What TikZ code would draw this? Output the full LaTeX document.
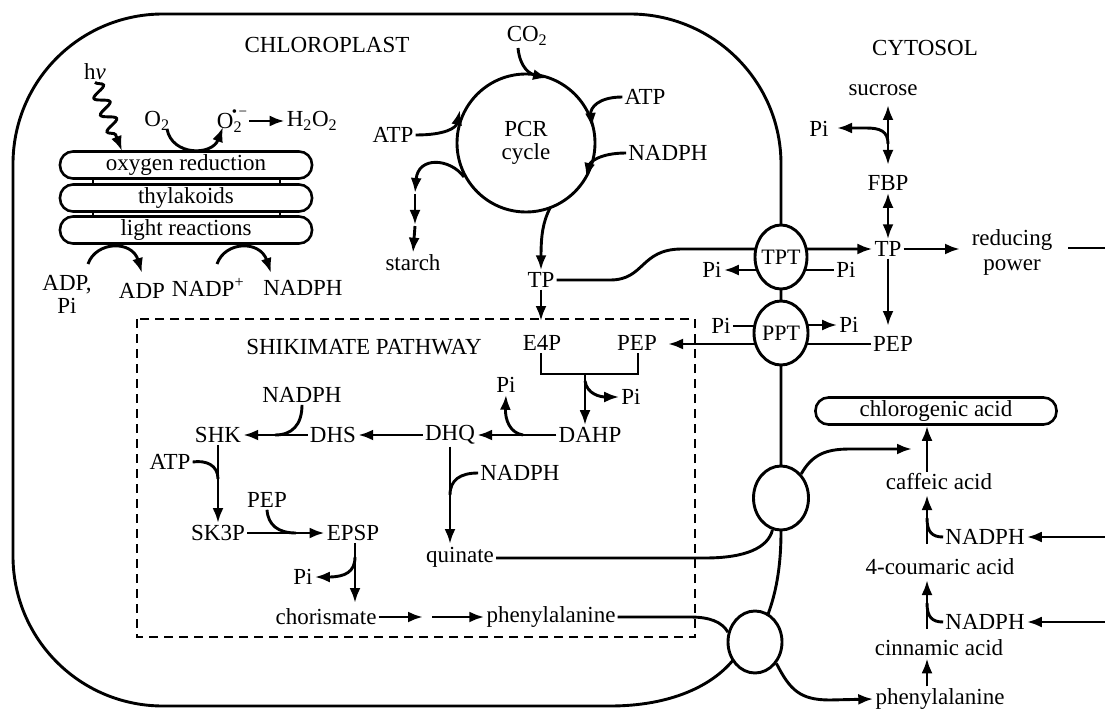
\documentclass[tikz,border=0pt]{standalone}
\usepackage{fontspec}
\setmainfont{Liberation Serif}
\usetikzlibrary{arrows.meta,decorations.pathmorphing,shapes.geometric}
\pgfdeclarelayer{bg}
\pgfsetlayers{bg,main}
\tikzset{
  lbl/.style={font=\fontsize{23}{25}\selectfont, inner sep=2pt},
  ln/.style={line width=2.9pt},
  ar/.style={line width=2.9pt, -{Latex[length=15pt,width=11pt]}},
  dar/.style={line width=2.9pt, {Latex[length=15pt,width=11pt]}-{Latex[length=15pt,width=11pt]}},
  memb/.style={line width=2.9pt},
  carrier/.style={draw, ellipse, line width=2.9pt, fill=white, inner sep=0pt},
  stack/.style={draw, line width=2.6pt, rounded corners=13pt, minimum width=252pt, minimum height=27pt, inner sep=0pt},
  shikbox/.style={line width=2.6pt, dash pattern=on 9pt off 6pt},
}
\begin{document}
\begin{tikzpicture}[x=1pt,y=-1pt, every node/.append style={lbl}]
\useasboundingbox (0,0) rectangle (1105,711);

% ---------- labels ----------
\node (chl) at (327,45) {CHLOROPLAST};
\node (cyt) at (925,48) {CYTOSOL};
\node (hv) at (95,72) {h\textit{ν}};
\node (o2) at (157,121) {O\textsubscript{2}};
\node (o2m) at (232,121) {O\textsubscript{2}\kern-0.45em\raisebox{0.55em}{\fontsize{15}{15}\selectfont\textbullet\kern0.1em−}};
\node (h2o2) at (312,121) {H\textsubscript{2}O\textsubscript{2}};
\node[stack] (thy1) at (186,165) {oxygen reduction};
\node[stack] (thy2) at (186,198) {thylakoids};
\node[stack] (thy3) at (186,230) {light reactions};
\node[align=center, font=\fontsize{23}{23}\selectfont] (adppi) at (67,294) {ADP,\\Pi};
\node (adp) at (142,291) {ADP};
\node (nadpp) at (208,287) {NADP\textsuperscript{+}};
\node (nadph1) at (303,288) {NADPH};

% PCR cycle
\node[draw, circle, line width=2.9pt, minimum size=138pt, align=center, font=\fontsize{23}{23}\selectfont] (pcr) at (526,143) {PCR\\cycle};
\node (co2) at (527,36) {CO\textsubscript{2}};
\node (atpR) at (645,97) {ATP};
\node (nadphR) at (668,153) {NADPH};
\node (atpL) at (393,135) {ATP};
\node (starch) at (413,263) {starch};
\node (tp1) at (541,280) {TP};

% shikimate pathway
\node (shik) at (364,347) {SHIKIMATE PATHWAY};
\node (e4p) at (542,343) {E4P};
\node (pep1) at (637,343) {PEP};
\node (dahp) at (590,435) {DAHP};
\node (dhq) at (450,435) {DHQ};
\node (dhs) at (333,435) {DHS};
\node (shk) at (218,435) {SHK};
\node (nadph2) at (302,395) {NADPH};
\node (pi1) at (506,385) {Pi};
\node (pi2) at (631,397) {Pi};
\node (nadph3) at (520,473) {NADPH};
\node (atp2) at (170,462) {ATP};
\node (sk3p) at (218,533) {SK3P};
\node (pep2) at (267,500) {PEP};
\node (epsp) at (353,533) {EPSP};
\node (pi3) at (303,577) {Pi};
\node (quinate) at (460,557) {quinate};
\node (chor) at (326,617) {chorismate};
\node (phe1) at (551,617) {phenylalanine};

% membrane carriers
\node[carrier, minimum width=52pt, minimum height=64pt] (tpt) at (781,257) {};
\node[font=\fontsize{22}{22}\selectfont] (tptL) at (tpt.center) {TPT};
\node[carrier, minimum width=54pt, minimum height=64pt] (ppt) at (781,333) {};
\node[font=\fontsize{22}{22}\selectfont] (pptL) at (ppt.center) {PPT};
\node[carrier, minimum width=55pt, minimum height=64pt] (e1) at (781,498) {};
\node[carrier, minimum width=54pt, minimum height=62pt] (e2) at (755,642) {};
\node (piTL) at (712,270) {Pi};
\node (piTR) at (846,270) {Pi};
\node (piPL) at (721,326) {Pi};
\node (piPR) at (849,325) {Pi};

% cytosol
\node (sucrose) at (883,90) {sucrose};
\node (piS) at (819,129) {Pi};
\node (fbp) at (888,183) {FBP};
\node (tp2) at (888,249) {TP};
\node[align=center, font=\fontsize{23}{25}\selectfont] (rp) at (1012,252) {reducing\\power};
\node (pep3) at (893,344) {PEP};
\node[stack, minimum width=241pt] (cga) at (936,411) {chlorogenic acid};
\node (caf) at (939,482) {caffeic acid};
\node (coum) at (940,567) {4-coumaric acid};
\node (cinn) at (939,648) {cinnamic acid};
\node (phe2) at (940,699) {phenylalanine};
\node (nadph4) at (985,537) {NADPH};
\node (nadph5) at (985,622) {NADPH};

% helper coordinates
\coordinate (sx1) at (93,0);
\coordinate (sx2) at (280,0);
\coordinate (col) at (927,0);
\coordinate (rEdge1) at (1105,537);
\coordinate (rEdge2) at (1105,622);
\coordinate (rEdge3) at (1105,248);
\coordinate (hvEnd) at (122,151);
\coordinate (brL) at (541,374);
\coordinate (brR) at (638,374);
\coordinate (brM) at (585,374);

\begin{pgfonlayer}{bg}
% chloroplast envelope
\draw[memb] (163,14) -- (630,14) .. controls (713,14) and (781,81) .. (781,164)
  -- (tpt.center) -- (ppt.center) -- (e1.center) -- (e1.south)
  .. controls (781,570) and (775,595) .. (e2.65) -- (e2.center) -- (e2.220)
  .. controls (712,685) and (672,706) .. (610,706) -- (163,706)
  .. controls (80,706) and (13,639) .. (13,556) -- (13,164)
  .. controls (13,81) and (80,14) .. (163,14) -- cycle;

% shikimate box
\draw[shikbox] (137,319) rectangle (695,637);

% light & thylakoids
\draw[ar, decorate, decoration={snake, amplitude=7pt, segment length=18pt, post length=14pt}] (hv.south) -- (hvEnd);
\draw[ln] (thy1.south -| sx1) -- (thy2.north -| sx1);
\draw[ln] (thy1.south -| sx2) -- (thy2.north -| sx2);
\draw[ln] (thy2.south -| sx1) -- (thy3.north -| sx1);
\draw[ln] (thy2.south -| sx2) -- (thy3.north -| sx2);
\draw[ar] (167,129) .. controls (172,156) and (212,156) .. (223,127);
\draw[ar] (o2m.east) -- (h2o2.west);
\draw[ar] (88,264) .. controls (96,241) and (132,240) .. (142,273);
\draw[ar] (217,264) .. controls (225,241) and (260,240) .. (271,273);

% PCR cycle
\draw[ar] (518,48) .. controls (520,68) and (530,74) .. (548,78);
\draw[ar] (atpR.west) .. controls (598,97) and (590,108) .. (592,128);
\draw[ar] (nadphR.west) .. controls (600,153) and (590,162) .. (586,178);
\draw[ar] (atpL.east) .. controls (445,135) and (456,128) .. (460,110);
\draw[ar] (464,177) .. controls (450,158) and (418,156) .. (415,193);
\draw[ar] (415,194) -- (415,225);
\draw[ar] (415,226) -- (starch.north);
\draw[ar] (550,208) .. controls (543,222) and (541,235) .. (tp1.north);
\draw[ar] (tp1.south) -- (541,321);

% TP export through TPT
\draw[ar] (tp1.east) -- (610,280) .. controls (645,280) and (640,249) .. (682,249) -- (tp2.west |- 0,249);
\draw[ar] ([yshift=-13pt]tpt.center) -- (piTL.east);
\draw[ln] ([yshift=-13pt]tpt.center) -- (piTR.west);
\draw[ln] (piPL.east) -- (ppt.center |- piPL.east);
\draw[ar] (ppt.center |- piPR.west) -- (piPR.west);
\draw[ar] (pep3.west) -- (668,344);

% shikimate pathway
\draw[ln] (e4p.south -| brL) -- (brL) -- (brR) -- (pep1.south -| brR);
\draw[ar] (brM) -- (dahp.north -| brM);
\draw[ar] (585,381) .. controls (587,394) and (600,397) .. (pi2.west);
\draw[ar] (dahp.west) -- (dhq.east |- dahp.west);
\draw[ar] (523,435) .. controls (510,433) and (505,420) .. (pi1.south);
\draw[ar] (dhq.west |- dhs.east) -- (dhs.east);
\draw[ar] (dhs.west) -- (shk.east);
\draw[ln] (nadph2.south) .. controls (302,425) and (292,435) .. (275,435);
\draw[ar] (shk.south) -- (sk3p.north);
\draw[ln] (atp2.east) .. controls (206,460) and (218,465) .. (218,479);
\draw[ar] (sk3p.east) -- (epsp.west);
\draw[ln] (pep2.south) .. controls (268,525) and (278,533) .. (296,533);
\draw[ar] (epsp.south -| 355,0) -- (355,603);
\draw[ar] (355,557) .. controls (355,572) and (345,577) .. (pi3.east);
\draw[ar] (dhq.south) -- (450,544);
\draw[ln] (nadph3.west) .. controls (460,473) and (450,480) .. (450,495);
\draw[ar] (chor.east) -- (423,617);
\draw[ar] (432,617) -- (phe1.west);

% exits to the cytosol
\draw[ln] (quinate.east |- 0,558) -- (705,558) .. controls (745,558) and (768,548) .. (e1.255);
\draw[ln] (phe1.east |- 0,617) -- (690,617) .. controls (710,617) and (722,622) .. (e2.160);
\draw[ar] (e1.50) .. controls (812,455) and (825,449) .. (850,449) -- (912,449);
\draw[ar] (e2.-45) .. controls (790,690) and (800,700) .. (830,700) -- (phe2.west);

% cytosol
\draw[dar] (888,105) -- (888,165);
\draw[ar] (888,144) .. controls (888,131) and (880,128) .. (866,128) -- (837,128);
\draw[dar] (fbp.south) -- (tp2.north);
\draw[ar] (tp2.east) -- (960,249);
\draw[ln] (1068,248) -- (rEdge3);
\draw[ar] (tp2.south) -- (888,326);
\draw[ar] (rEdge1) -- (nadph4.east);
\draw[ar] (rEdge2) -- (nadph5.east);
\draw[ar] (caf.north -| col) -- (cga.south -| col);
\draw[ar] (927,544) -- (927,495);
\draw[ln] (nadph4.west) .. controls (932,537) and (927,532) .. (927,518);
\draw[ar] (927,629) -- (927,580);
\draw[ln] (nadph5.west) .. controls (932,622) and (927,617) .. (927,603);
\draw[ar] (phe2.north -| col) -- (cinn.south -| col);
\end{pgfonlayer}
\end{tikzpicture}
\end{document}
